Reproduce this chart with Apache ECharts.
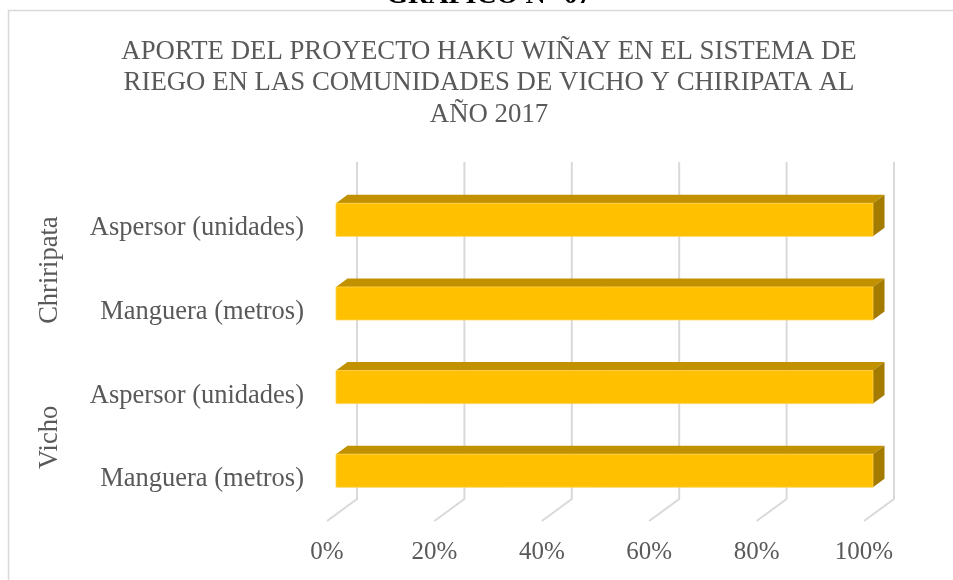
<!DOCTYPE html>
<html>
<head>
<meta charset="utf-8">
<script src="https://cdn.jsdelivr.net/npm/echarts@6/dist/echarts.min.js"></script>
<style>
html,body{margin:0;padding:0;background:#fff;}
#chart{width:953px;height:580px;}
</style>
</head>
<body>
<div id="chart"></div>
<script>
// ---- data ----
const groups = ['Chriripata', 'Vicho'];
const itemNames = ['Aspersor (unidades)', 'Manguera (metros)', 'Aspersor (unidades)', 'Manguera (metros)'];
const itemGroups = ['Chriripata', 'Chriripata', 'Vicho', 'Vicho'];
const values = [100, 100, 100, 100];
const tickValues = [0, 20, 40, 60, 80, 100];
const titleLines = ['APORTE DEL PROYECTO HAKU WIÑAY EN EL SISTEMA DE', 'RIEGO EN LAS COMUNIDADES DE VICHO Y CHIRIPATA AL', 'AÑO 2017'];
const headerText = 'GRÁFICO N° 07';

// ---- build ----
const categories = itemNames.map((n, i) => itemGroups[i] + '|' + n);
const barData = values.map((v, i) => [v, categories[i]]);
const gridData = tickValues.map(v => [v, categories[0]]);

const FONT = '"Liberation Serif", "Times New Roman", serif';
const TXT = '#595959';

const chart = echarts.init(document.getElementById('chart'), null, {renderer: 'canvas'});
chart.setOption({
  animation: false,
  backgroundColor: '#ffffff',
  title: {
    text: titleLines.join('\n'),
    left: 484, top: 31, textAlign: 'center',
    textStyle: {fontFamily: FONT, fontSize: 26.8, fontWeight: 'normal', color: TXT, lineHeight: 31.5}
  },
  graphic: [
    {type: 'rect', shape: {x: 8.5, y: 10.5, width: 1200, height: 900}, style: {fill: 'none', stroke: '#d9d9d9', lineWidth: 1.5}, silent: true, z: -1},
    {type: 'text', x: 489, y: -18, style: {text: headerText, font: 'bold 28px ' + FONT, fill: '#000', textAlign: 'center', textVerticalAlign: 'top'}, silent: true}
  ],
  grid: {left: 327, right: 89, top: 186.5, bottom: 59, containLabel: false},
  xAxis: {
    type: 'value', min: 0, max: 100, interval: 20,
    axisLine: {show: false}, axisTick: {show: false}, splitLine: {show: false},
    axisLabel: {formatter: '{value}%', fontFamily: FONT, fontSize: 25, color: TXT, margin: 19}
  },
  yAxis: [
    {
      type: 'category', data: categories, inverse: true,
      axisLine: {show: false}, axisTick: {show: false}, splitLine: {show: false},
      axisLabel: {formatter: v => v.split('|')[1], fontFamily: FONT, fontSize: 26.5, color: TXT, margin: 23}
    },
    {
      type: 'category', data: groups, inverse: true, position: 'left', offset: 255,
      axisLine: {show: false}, axisTick: {show: false}, splitLine: {show: false},
      axisLabel: {rotate: 90, fontFamily: FONT, fontSize: 26.5, color: TXT, margin: 8}
    }
  ],
  series: [
    {
      type: 'custom', name: 'grid', silent: true, z: 1,
      encode: {x: 0, y: 1},
      data: gridData,
      renderItem: function (params, api) {
        const x = api.coord([api.value(0), 0])[0];
        const cs = params.coordSys;
        const bottom = cs.y + cs.height;
        return {
          type: 'polyline',
          shape: {points: [[x + 30, cs.y - 24.5], [x + 30, bottom - 22], [x, bottom]]},
          style: {stroke: '#d9d9d9', lineWidth: 2, fill: 'none'}
        };
      }
    },
    {
      type: 'custom', name: 'bars', z: 2,
      encode: {x: 0, y: 1},
      data: barData,
      renderItem: function (params, api) {
        const cat = api.value(1);
        const s = api.coord([0, cat]);
        const e = api.coord([api.value(0), cat]);
        const band = api.size([0, 1])[1];
        const h = band * 0.395;
        const x0 = s[0] + 9, x1 = e[0] + 9;
        const yc = s[1] - 8.5;
        const y0 = yc - h / 2, y1 = yc + h / 2;
        const dx = 11.5, dy = -8.5;
        return {
          type: 'group',
          children: [
            {type: 'polygon', shape: {points: [[x0, y0], [x1, y0], [x1 + dx, y0 + dy], [x0 + dx, y0 + dy]]}, style: {fill: '#C29100'}},
            {type: 'polygon', shape: {points: [[x1, y0], [x1 + dx, y0 + dy], [x1 + dx, y1 + dy], [x1, y1]]}, style: {fill: '#A37B00'}},
            {type: 'rect', shape: {x: x0, y: y0, width: x1 - x0, height: y1 - y0}, style: {fill: '#FFC000', stroke: '#FFD24D', lineWidth: 0.8}}
          ]
        };
      }
    }
  ]
});
</script>
</body>
</html>
